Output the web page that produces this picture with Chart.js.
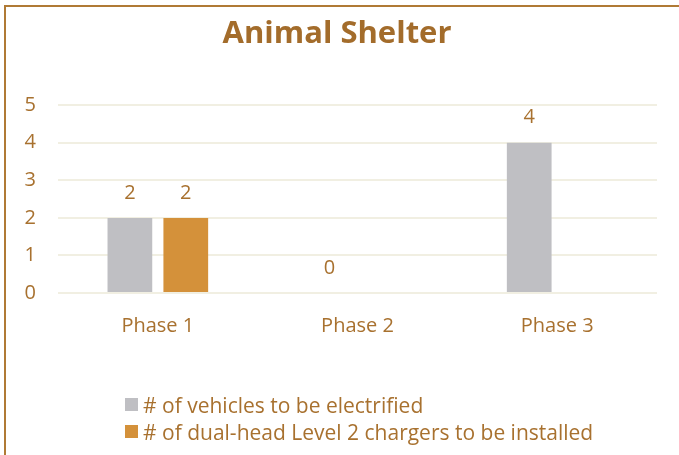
<!DOCTYPE html>
<html>
<head>
<meta charset="utf-8">
<script src="https://cdn.jsdelivr.net/npm/chart.js@4/dist/chart.umd.min.js"></script>
<style>
  html, body { margin: 0; padding: 0; background: #fff; }
  #wrap { position: relative; width: 679px; height: 455px; overflow: hidden; }
  #frame { position: absolute; left: 4px; top: 5px; width: 700px; height: 500px;
           border: 2px solid #B07A35; box-sizing: border-box; }
  #legend { position: absolute; left: 125px; top: 391px; font-family: 'Open Sans', sans-serif;
            font-size: 21px; color: #A8712F; }
  #legend div { display: flex; align-items: center; height: 27px; }
  #legend span.box { display: inline-block; width: 13px; height: 13px; margin-right: 5px; }
</style>
</head>
<body>
<div id="wrap">
  <div id="frame"></div>
  <canvas id="c" width="679" height="455"></canvas>
  <div id="legend"></div>
</div>
<script>
const categories = ['Phase 1', 'Phase 2', 'Phase 3'];
const vehicles = [2, 0, 4];
const chargers = [2, null, null];
const seriesNames = ['# of vehicles to be electrified', '# of dual-head Level 2 chargers to be installed'];
const yTicks = [0, 1, 2, 3, 4, 5];

const TEXT = '#A8712F',
      GRAY = '#BFBFC3',
      ORANGE = '#D4913A',
      GRID = '#F1EFE2';
const FONT = "'Open Sans', sans-serif";

// value labels above each bar
const barLabels = {
  id: 'barLabels',
  afterDatasetsDraw(chart) {
    const ctx = chart.ctx;
    ctx.save();
    ctx.font = '20px ' + FONT;
    ctx.fillStyle = TEXT;
    ctx.textAlign = 'center';
    ctx.textBaseline = 'middle';
    chart.data.datasets.forEach((ds, i) => {
      chart.getDatasetMeta(i).data.forEach((bar, j) => {
        const v = ds.data[j];
        if (v === null || v === undefined) return;
        ctx.fillText(String(v), bar.x, bar.y - 25);
      });
    });
    ctx.restore();
  }
};

const chart = new Chart(document.getElementById('c'), {
  type: 'bar',
  data: {
    labels: categories,
    datasets: [
      { label: seriesNames[0], data: vehicles, backgroundColor: GRAY },
      { label: seriesNames[1], data: chargers, backgroundColor: ORANGE }
    ]
  },
  options: {
    responsive: false,
    animation: false,
    categoryPercentage: 0.56,
    barPercentage: 0.8,
    layout: { padding: { left: 17, right: 22, top: 0, bottom: 0 } },
    plugins: {
      legend: { display: false },
      tooltip: { enabled: false },
      title: {
        display: true,
        text: 'Animal Shelter',
        color: '#A36C2B',
        font: { family: FONT, size: 31, weight: 'bold' },
        padding: { top: 16, bottom: 52 }
      }
    },
    scales: {
      x: {
        grid: { display: false },
        border: { display: false },
        ticks: { color: TEXT, font: { family: FONT, size: 20 }, padding: 13 },
        afterFit(scale) { scale.height = 162; }
      },
      y: {
        min: 0,
        max: 5,
        afterBuildTicks(scale) { scale.ticks = yTicks.map(v => ({ value: v })); },
        grid: { color: GRID, lineWidth: 2, drawTicks: false },
        border: { display: false },
        ticks: { color: TEXT, font: { family: FONT, size: 20 }, padding: 22 },
        afterFit(scale) { scale.width = 41; }
      }
    }
  },
  plugins: [barLabels]
});

// legend block, left aligned rows
const legend = document.getElementById('legend');
chart.data.datasets.forEach(ds => {
  const row = document.createElement('div');
  const box = document.createElement('span');
  box.className = 'box';
  box.style.background = ds.backgroundColor;
  row.appendChild(box);
  row.appendChild(document.createTextNode(ds.label));
  legend.appendChild(row);
});
</script>
</body>
</html>
